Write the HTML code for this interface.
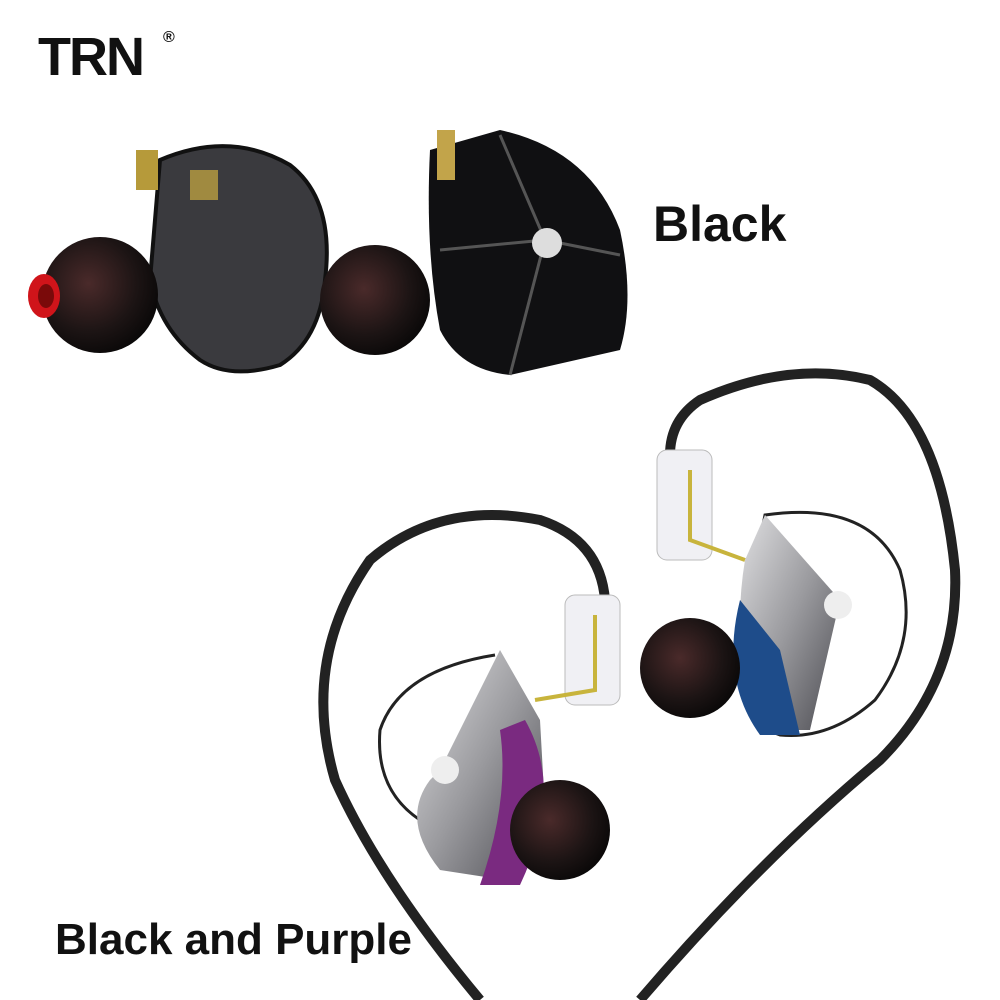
<!DOCTYPE html>
<html><head><style>
html,body{margin:0;padding:0;background:#fff;}
svg{display:block}
text{font-family:"Liberation Sans",Arial,sans-serif;font-weight:bold;fill:#111}
</style></head><body>
<svg width="1000" height="1000" viewBox="0 0 1000 1000" xmlns="http://www.w3.org/2000/svg">
<defs>
<radialGradient id="tip" cx="0.4" cy="0.4" r="0.7"><stop offset="0" stop-color="#4a2a2a"/><stop offset="0.6" stop-color="#1c1414"/><stop offset="1" stop-color="#050505"/></radialGradient>
<linearGradient id="silver" x1="0" y1="0" x2="1" y2="1"><stop offset="0" stop-color="#e0e0e2"/><stop offset="0.5" stop-color="#9a9a9e"/><stop offset="1" stop-color="#4a4a50"/></linearGradient>
</defs>
<text x="38" y="75" font-size="54" letter-spacing="-2">TRN</text>
<text x="163" y="42" font-size="16" font-weight="normal">®</text>
<text x="653" y="241" font-size="50">Black</text>
<text x="55" y="954" font-size="44">Black and Purple</text>

<path d="M160 160 Q230 130 290 165 Q335 200 325 280 Q320 340 280 365 Q230 380 200 360 Q160 330 150 280 Z" fill="#3a3a3e" stroke="#111" stroke-width="4"/>
<rect x="136" y="150" width="22" height="40" fill="#b69a3a"/>
<rect x="190" y="170" width="28" height="30" fill="#a08a40"/>
<circle cx="100" cy="295" r="58" fill="url(#tip)"/>
<ellipse cx="44" cy="296" rx="16" ry="22" fill="#d0141a"/>
<ellipse cx="46" cy="296" rx="8" ry="12" fill="#7a0a0a"/>

<path d="M430 150 L500 130 Q590 150 620 230 Q635 300 620 350 L510 375 Q460 370 440 330 Q425 250 430 150 Z" fill="#101012"/>
<path d="M500 135 L545 240 L620 255 M545 240 L510 375 M545 240 L440 250" stroke="#555" stroke-width="3" fill="none"/>
<circle cx="547" cy="243" r="15" fill="#ddd"/>
<rect x="437" y="130" width="18" height="50" fill="#c2a44a"/>
<circle cx="375" cy="300" r="55" fill="url(#tip)"/>

<path d="M480 1000 Q380 880 335 780 Q300 660 370 560 Q440 500 540 520 Q600 540 605 600" stroke="#222" stroke-width="10" fill="none"/>
<path d="M640 1000 Q760 860 880 760 Q960 680 955 570 Q940 420 870 380 Q790 360 700 400 Q670 420 670 455" stroke="#222" stroke-width="10" fill="none"/>

<rect x="657" y="450" width="55" height="110" rx="10" fill="#f0f0f4" stroke="#bbb"/>
<path d="M690 470 L690 540 L745 560" stroke="#c8b43c" stroke-width="4" fill="none"/>
<path d="M765 515 Q870 500 900 570 Q920 640 875 700 Q830 740 780 735 Q735 720 740 640 Z" fill="none" stroke="#222" stroke-width="3"/>
<path d="M765 515 L840 600 L810 730 L760 730 Q730 650 745 560 Z" fill="url(#silver)"/>
<path d="M740 600 Q720 680 760 735 L800 735 L780 650 Z" fill="#1e4c8a"/>
<circle cx="838" cy="605" r="14" fill="#eee"/>
<circle cx="690" cy="668" r="50" fill="url(#tip)"/>

<rect x="565" y="595" width="55" height="110" rx="10" fill="#f0f0f4" stroke="#bbb"/>
<path d="M595 615 L595 690 L535 700" stroke="#c8b43c" stroke-width="4" fill="none"/>
<path d="M495 655 Q400 670 380 730 Q375 790 420 820 L470 870" fill="none" stroke="#222" stroke-width="3"/>
<path d="M500 650 L540 720 L545 810 L505 880 L440 870 Q400 820 430 780 L440 770 Z" fill="url(#silver)"/>
<path d="M525 720 Q565 790 520 885 L480 885 Q510 800 500 730 Z" fill="#7a2a80"/>
<circle cx="445" cy="770" r="14" fill="#eee"/>
<circle cx="560" cy="830" r="50" fill="url(#tip)"/>
</svg>
</body></html>
